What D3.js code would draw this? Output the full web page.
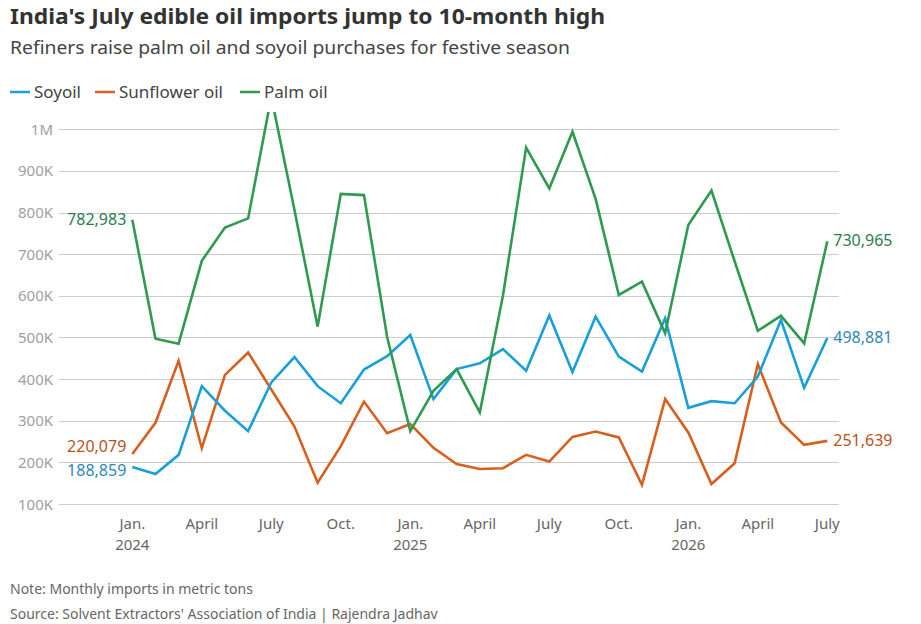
<!DOCTYPE html>
<html>
<head>
<meta charset="utf-8">
<script src="https://cdn.jsdelivr.net/npm/d3@7"></script>
<style>
  html, body { margin: 0; padding: 0; background: #fff; }
  svg { display: block; font-family: "Noto Sans", "Open Sans", sans-serif; }
</style>
</head>
<body>
<svg id="chart" width="921" height="624"></svg>
<script>
// Months Jan 2024 .. Jul 2026
const months = ["2024-01","2024-02","2024-03","2024-04","2024-05","2024-06","2024-07","2024-08","2024-09","2024-10","2024-11","2024-12",
                "2025-01","2025-02","2025-03","2025-04","2025-05","2025-06","2025-07","2025-08","2025-09","2025-10","2025-11","2025-12",
                "2026-01","2026-02","2026-03","2026-04","2026-05","2026-06","2026-07"];

const soyoil = [188859,172000,218000,383000,324000,275000,392000,453000,383000,342000,423000,455000,
                506000,352000,424000,438000,472000,420000,553000,417000,550000,454000,418000,546000,
                331000,347000,342000,406000,542000,379000,498881];

const sunflower = [220079,295000,444000,234000,410000,464000,375000,286000,151000,239000,346000,270000,
                   292000,235000,196000,184000,186000,218000,202000,261000,274000,260000,146000,352000,
                   272000,148000,198000,436000,296000,242000,251639];

const palm = [782983,497000,485000,684000,764000,786000,1078000,806000,526000,845000,842000,501000,
              275000,372000,424000,320000,601000,956000,858000,994000,833000,602000,634000,510000,
              770000,853000,683000,516000,552000,486000,730965];

const yTicks = [100000,200000,300000,400000,500000,600000,700000,800000,900000,1000000];
const yTickLabels = ["100K","200K","300K","400K","500K","600K","700K","800K","900K","1M"];
const xTickIdx = [0,3,6,9,12,15,18,21,24,27,30];
const xTickLabels = ["Jan.","April","July","Oct.","Jan.","April","July","Oct.","Jan.","April","July"];
const xTickYears = ["2024","","","","2025","","","","2026","",""];

const seriesNames = ["Soyoil","Sunflower oil","Palm oil"];
const colors = ["#1b9fd9","#d6601e","#2f9a50"];
const labelColors = ["#2f87b8","#b9531b","#2b7d4f"];

const svg = d3.select("#chart");

const x = d3.scaleLinear().domain([0, months.length - 1]).range([132.3, 827.3]);
const y = d3.scaleLinear().domain([100000, 1000000]).range([504, 129.3]);

// Title & subtitle
svg.append("text").attr("x", 10).attr("y", 24)
  .attr("font-size", 22).attr("font-weight", 700).attr("fill", "#333")
  .attr("textLength", 595).attr("lengthAdjust", "spacingAndGlyphs")
  .text("India's July edible oil imports jump to 10-month high");
svg.append("text").attr("x", 10).attr("y", 54)
  .attr("font-size", 18.5).attr("fill", "#444")
  .attr("textLength", 560).attr("lengthAdjust", "spacingAndGlyphs")
  .text("Refiners raise palm oil and soyoil purchases for festive season");

// Legend
const legend = svg.append("g");
const legendX = [10, 95, 240];
seriesNames.forEach((n, i) => {
  const g = legend.append("g").attr("transform", `translate(${legendX[i]},92)`);
  g.append("line").attr("x1", 0).attr("x2", 20).attr("y1", 0).attr("y2", 0)
    .attr("stroke", colors[i]).attr("stroke-width", 2.5);
  g.append("text").attr("x", 24).attr("y", 6).attr("font-size", 17).attr("fill", "#444").text(n);
});

// Gridlines and y labels
const grid = svg.append("g");
yTicks.forEach((t, i) => {
  grid.append("line").attr("x1", 59).attr("x2", 839)
    .attr("y1", Math.round(y(t)) + 0.5).attr("y2", Math.round(y(t)) + 0.5)
    .attr("stroke", "#cccccc").attr("stroke-width", 1);
  grid.append("text").attr("x", 53).attr("y", y(t) + 5.5)
    .attr("text-anchor", "end").attr("font-size", 15).attr("fill", "#a0a0a0")
    .text(yTickLabels[i]);
});

// X labels
xTickIdx.forEach((idx, i) => {
  svg.append("text").attr("x", x(idx)).attr("y", 529)
    .attr("text-anchor", "middle").attr("font-size", 15).attr("fill", "#666")
    .text(xTickLabels[i]);
  if (xTickYears[i]) {
    svg.append("text").attr("x", x(idx)).attr("y", 550)
      .attr("text-anchor", "middle").attr("font-size", 15).attr("fill", "#666")
      .text(xTickYears[i]);
  }
});

// Clip
svg.append("clipPath").attr("id", "plotclip").append("rect")
  .attr("x", 40).attr("y", 112).attr("width", 820).attr("height", 420);

const line = d3.line().x((d, i) => x(i)).y(d => y(d));
const data = [soyoil, sunflower, palm];
const g = svg.append("g").attr("clip-path", "url(#plotclip)");
[1, 0, 2].forEach(si => {
  g.append("path").datum(data[si]).attr("d", line)
    .attr("fill", "none").attr("stroke", colors[si]).attr("stroke-width", 2.6)
    .attr("stroke-linejoin", "miter").attr("stroke-linecap", "butt");
});

// End labels
const fmt = d3.format(",");
const startOffsets = [9, -2, 5];
const endOffsets = [5, 5, 5];
data.forEach((s, si) => {
  svg.append("text").attr("x", x(0) - 6).attr("y", y(s[0]) + startOffsets[si])
    .attr("text-anchor", "end").attr("font-size", 16).attr("fill", labelColors[si])
    .text(fmt(s[0]));
  const last = s[s.length - 1];
  svg.append("text").attr("x", x(s.length - 1) + 6).attr("y", y(last) + endOffsets[si])
    .attr("text-anchor", "start").attr("font-size", 16).attr("fill", labelColors[si])
    .text(fmt(last));
});

// Notes
svg.append("text").attr("x", 10).attr("y", 594).attr("font-size", 14).attr("fill", "#666")
  .text("Note: Monthly imports in metric tons");
svg.append("text").attr("x", 10).attr("y", 619).attr("font-size", 14).attr("fill", "#666")
  .text("Source: Solvent Extractors' Association of India | Rajendra Jadhav");
</script>
</body>
</html>
